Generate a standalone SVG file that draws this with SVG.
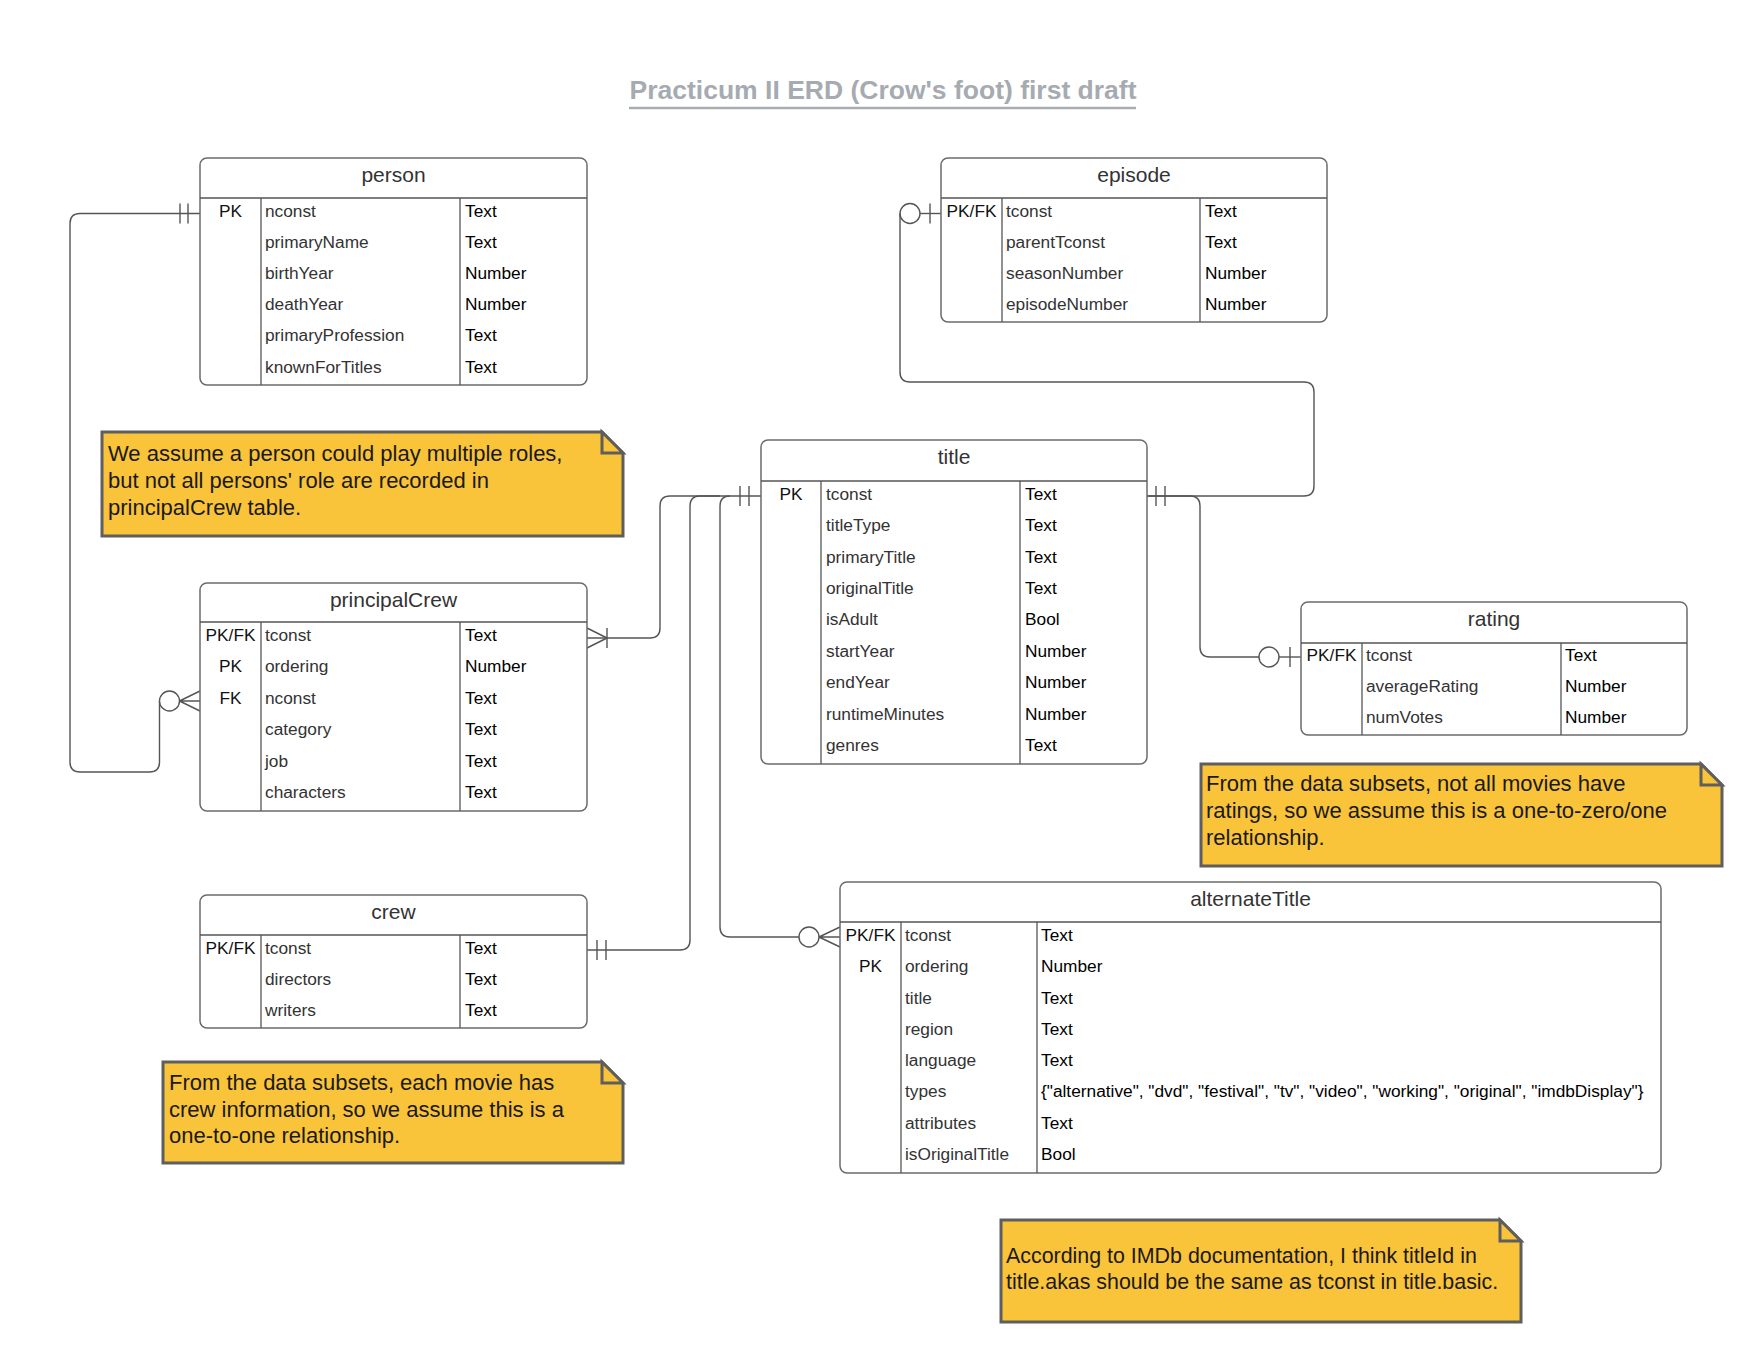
<svg xmlns="http://www.w3.org/2000/svg" width="1760" height="1360" viewBox="0 0 1760 1360">
<style>
text{font-family:"Liberation Sans",Arial,sans-serif}
.bg{fill:#ffffff}
.box{fill:#ffffff;stroke:#6b6b6b;stroke-width:1.5}
.ln{stroke:#555555;stroke-width:1.3;fill:none}
.hdr{font-size:21px;fill:#333333;text-anchor:middle}
.key{font-size:17.3px;fill:#111111;text-anchor:middle}
.fld{font-size:17.3px;fill:#333333}
.typ{font-size:17.3px;fill:#000000}
.note{fill:#f9c33a;stroke:#5e5e5e;stroke-width:3;stroke-linejoin:miter}
.nt{font-size:22px;fill:#1a1a1a}
.nt2{font-size:21.4px;fill:#1a1a1a}
.conn{stroke:#555555;stroke-width:1.4;fill:none}
.circ{fill:#ffffff;stroke:#555555;stroke-width:1.4}
.ttl{font-size:26.5px;font-weight:bold;fill:#a6abb2;text-anchor:middle}
</style>
<rect class="bg" x="0" y="0" width="1760" height="1360"/>

<g id="heading">
<text class="ttl" x="883" y="99">Practicum II ERD (Crow's foot) first draft</text>
<line x1="629" y1="108" x2="1136" y2="108" stroke="#a8adb4" stroke-width="2.5"/>
</g>

<g id="connectors">
<!-- person -> principalCrew -->
<path class="conn" d="M200,213.5 H80 Q70,213.5 70,223.5 V762 Q70,772 80,772 H149.5 Q159.5,772 159.5,762 V701"/>
<line class="conn" x1="180" y1="203.5" x2="180" y2="223.5"/>
<line class="conn" x1="188" y1="203.5" x2="188" y2="223.5"/>
<circle class="circ" cx="169.5" cy="701" r="10"/>
<path class="conn" d="M179.5,701 L200,691 M179.5,701 H200 M179.5,701 L200,711"/>

<!-- episode -> title -->
<path class="conn" d="M941,213.5 H920"/>
<line class="conn" x1="930" y1="203.5" x2="930" y2="223.5"/>
<circle class="circ" cx="910" cy="213.5" r="10"/>
<path class="conn" d="M900,213.5 V372 Q900,382 910,382 H1304 Q1314,382 1314,392 V486 Q1314,496 1304,496 H1147"/>
<line class="conn" x1="1156" y1="486" x2="1156" y2="506"/>
<line class="conn" x1="1165" y1="486" x2="1165" y2="506"/>

<!-- title -> rating -->
<path class="conn" d="M1147,496 H1190 Q1200,496 1200,506 V647 Q1200,657 1210,657 H1259"/>
<circle class="circ" cx="1269" cy="657" r="10"/>
<path class="conn" d="M1279,657 H1301"/>
<line class="conn" x1="1290" y1="647" x2="1290" y2="667"/>

<!-- title left ticks -->
<path class="conn" d="M761,496 H720"/>
<line class="conn" x1="740" y1="486" x2="740" y2="506"/>
<line class="conn" x1="749" y1="486" x2="749" y2="506"/>

<!-- title -> principalCrew -->
<path class="conn" d="M720,496 H670 Q660,496 660,506 V628 Q660,638 650,638 H587"/>
<path class="conn" d="M607,638 L587,628 M607,638 L587,648"/>
<line class="conn" x1="607" y1="628" x2="607" y2="648"/>

<!-- title -> crew -->
<path class="conn" d="M720,496 H700 Q690,496 690,506 V940 Q690,950 680,950 H587"/>
<line class="conn" x1="597" y1="940" x2="597" y2="960"/>
<line class="conn" x1="606" y1="940" x2="606" y2="960"/>

<!-- title -> alternateTitle -->
<path class="conn" d="M730,496 Q720,496 720,506 V927 Q720,937 730,937 H799"/>
<circle class="circ" cx="809" cy="937" r="10"/>
<path class="conn" d="M819,937 L840,927 M819,937 H840 M819,937 L840,947"/>
</g>

<g id="person">
<rect class="box" x="200" y="158" width="387" height="227" rx="7"/>
<line class="ln" x1="200" y1="198" x2="587" y2="198"/>
<line class="ln" x1="261" y1="198" x2="261" y2="385"/>
<line class="ln" x1="460" y1="198" x2="460" y2="385"/>
<text class="hdr" x="393.5" y="181.5">person</text>
<text class="key" x="230.5" y="217">PK</text>
<text class="fld" x="265" y="217">nconst</text><text class="typ" x="465" y="217">Text</text>
<text class="fld" x="265" y="248">primaryName</text><text class="typ" x="465" y="248">Text</text>
<text class="fld" x="265" y="279">birthYear</text><text class="typ" x="465" y="279">Number</text>
<text class="fld" x="265" y="310">deathYear</text><text class="typ" x="465" y="310">Number</text>
<text class="fld" x="265" y="341">primaryProfession</text><text class="typ" x="465" y="341">Text</text>
<text class="fld" x="265" y="373">knownForTitles</text><text class="typ" x="465" y="373">Text</text>
</g>

<g id="episode">
<rect class="box" x="941" y="158" width="386" height="164" rx="7"/>
<line class="ln" x1="941" y1="198" x2="1327" y2="198"/>
<line class="ln" x1="1002" y1="198" x2="1002" y2="322"/>
<line class="ln" x1="1200" y1="198" x2="1200" y2="322"/>
<text class="hdr" x="1134" y="181.5">episode</text>
<text class="key" x="971.5" y="217">PK/FK</text>
<text class="fld" x="1006" y="217">tconst</text><text class="typ" x="1205" y="217">Text</text>
<text class="fld" x="1006" y="248">parentTconst</text><text class="typ" x="1205" y="248">Text</text>
<text class="fld" x="1006" y="279">seasonNumber</text><text class="typ" x="1205" y="279">Number</text>
<text class="fld" x="1006" y="310">episodeNumber</text><text class="typ" x="1205" y="310">Number</text>
</g>

<g id="title">
<rect class="box" x="761" y="440" width="386" height="324" rx="7"/>
<line class="ln" x1="761" y1="481" x2="1147" y2="481"/>
<line class="ln" x1="821" y1="481" x2="821" y2="764"/>
<line class="ln" x1="1020" y1="481" x2="1020" y2="764"/>
<text class="hdr" x="954" y="464">title</text>
<text class="key" x="791" y="500">PK</text>
<text class="fld" x="826" y="500">tconst</text><text class="typ" x="1025" y="500">Text</text>
<text class="fld" x="826" y="531">titleType</text><text class="typ" x="1025" y="531">Text</text>
<text class="fld" x="826" y="563">primaryTitle</text><text class="typ" x="1025" y="563">Text</text>
<text class="fld" x="826" y="594">originalTitle</text><text class="typ" x="1025" y="594">Text</text>
<text class="fld" x="826" y="625">isAdult</text><text class="typ" x="1025" y="625">Bool</text>
<text class="fld" x="826" y="657">startYear</text><text class="typ" x="1025" y="657">Number</text>
<text class="fld" x="826" y="688">endYear</text><text class="typ" x="1025" y="688">Number</text>
<text class="fld" x="826" y="720">runtimeMinutes</text><text class="typ" x="1025" y="720">Number</text>
<text class="fld" x="826" y="751">genres</text><text class="typ" x="1025" y="751">Text</text>
</g>

<g id="rating">
<rect class="box" x="1301" y="602" width="386" height="133" rx="7"/>
<line class="ln" x1="1301" y1="643" x2="1687" y2="643"/>
<line class="ln" x1="1362" y1="643" x2="1362" y2="735"/>
<line class="ln" x1="1561" y1="643" x2="1561" y2="735"/>
<text class="hdr" x="1494" y="626">rating</text>
<text class="key" x="1331.5" y="661">PK/FK</text>
<text class="fld" x="1366" y="661">tconst</text><text class="typ" x="1565" y="661">Text</text>
<text class="fld" x="1366" y="692">averageRating</text><text class="typ" x="1565" y="692">Number</text>
<text class="fld" x="1366" y="723">numVotes</text><text class="typ" x="1565" y="723">Number</text>
</g>

<g id="principalCrew">
<rect class="box" x="200" y="583" width="387" height="228" rx="7"/>
<line class="ln" x1="200" y1="622" x2="587" y2="622"/>
<line class="ln" x1="261" y1="622" x2="261" y2="811"/>
<line class="ln" x1="460" y1="622" x2="460" y2="811"/>
<text class="hdr" x="393.5" y="606.5">principalCrew</text>
<text class="key" x="230.5" y="641">PK/FK</text>
<text class="key" x="230.5" y="672">PK</text>
<text class="key" x="230.5" y="704">FK</text>
<text class="fld" x="265" y="641">tconst</text><text class="typ" x="465" y="641">Text</text>
<text class="fld" x="265" y="672">ordering</text><text class="typ" x="465" y="672">Number</text>
<text class="fld" x="265" y="704">nconst</text><text class="typ" x="465" y="704">Text</text>
<text class="fld" x="265" y="735">category</text><text class="typ" x="465" y="735">Text</text>
<text class="fld" x="265" y="767">job</text><text class="typ" x="465" y="767">Text</text>
<text class="fld" x="265" y="798">characters</text><text class="typ" x="465" y="798">Text</text>
</g>

<g id="crew">
<rect class="box" x="200" y="895" width="387" height="133" rx="7"/>
<line class="ln" x1="200" y1="935" x2="587" y2="935"/>
<line class="ln" x1="261" y1="935" x2="261" y2="1028"/>
<line class="ln" x1="460" y1="935" x2="460" y2="1028"/>
<text class="hdr" x="393.5" y="918.5">crew</text>
<text class="key" x="230.5" y="954">PK/FK</text>
<text class="fld" x="265" y="954">tconst</text><text class="typ" x="465" y="954">Text</text>
<text class="fld" x="265" y="985">directors</text><text class="typ" x="465" y="985">Text</text>
<text class="fld" x="265" y="1016">writers</text><text class="typ" x="465" y="1016">Text</text>
</g>

<g id="alternateTitle">
<rect class="box" x="840" y="882" width="821" height="291" rx="7"/>
<line class="ln" x1="840" y1="922" x2="1661" y2="922"/>
<line class="ln" x1="901" y1="922" x2="901" y2="1173"/>
<line class="ln" x1="1037" y1="922" x2="1037" y2="1173"/>
<text class="hdr" x="1250.5" y="905.5">alternateTitle</text>
<text class="key" x="870.5" y="941">PK/FK</text>
<text class="key" x="870.5" y="972">PK</text>
<text class="fld" x="905" y="941">tconst</text><text class="typ" x="1041" y="941">Text</text>
<text class="fld" x="905" y="972">ordering</text><text class="typ" x="1041" y="972">Number</text>
<text class="fld" x="905" y="1003.5">title</text><text class="typ" x="1041" y="1003.5">Text</text>
<text class="fld" x="905" y="1034.5">region</text><text class="typ" x="1041" y="1034.5">Text</text>
<text class="fld" x="905" y="1065.5">language</text><text class="typ" x="1041" y="1065.5">Text</text>
<text class="fld" x="905" y="1097">types</text><text class="typ" x="1041" y="1097">{"alternative", "dvd", "festival", "tv", "video", "working", "original", "imdbDisplay"}</text>
<text class="fld" x="905" y="1128.5">attributes</text><text class="typ" x="1041" y="1128.5">Text</text>
<text class="fld" x="905" y="1160">isOriginalTitle</text><text class="typ" x="1041" y="1160">Bool</text>
</g>

<g id="note-person">
<path class="note" d="M102,432 H602 L623,453 V536 H102 Z"/>
<path class="note" d="M602,432 V453 H623 Z"/>
<text class="nt" x="108" y="461">We assume a person could play multiple roles,</text>
<text class="nt" x="108" y="488">but not all persons' role are recorded in</text>
<text class="nt" x="108" y="515">principalCrew table.</text>
</g>

<g id="note-rating">
<path class="note" d="M1201,764 H1701 L1722,785 V866 H1201 Z"/>
<path class="note" d="M1701,764 V785 H1722 Z"/>
<text class="nt" x="1206" y="791">From the data subsets, not all movies have</text>
<text class="nt" x="1206" y="818">ratings, so we assume this is a one-to-zero/one</text>
<text class="nt" x="1206" y="845">relationship.</text>
</g>

<g id="note-crew">
<path class="note" d="M163,1062 H602 L623,1083 V1163 H163 Z"/>
<path class="note" d="M602,1062 V1083 H623 Z"/>
<text class="nt" x="169" y="1090">From the data subsets, each movie has</text>
<text class="nt" x="169" y="1117">crew information, so we assume this is a</text>
<text class="nt" x="169" y="1143">one-to-one relationship.</text>
</g>

<g id="note-imdb">
<path class="note" d="M1001,1220 H1500 L1521,1241 V1322 H1001 Z"/>
<path class="note" d="M1500,1220 V1241 H1521 Z"/>
<text class="nt2" x="1006" y="1263">According to IMDb documentation, I think titleId in</text>
<text class="nt2" x="1006" y="1289">title.akas should be the same as tconst in title.basic.</text>
</g>
</svg>
